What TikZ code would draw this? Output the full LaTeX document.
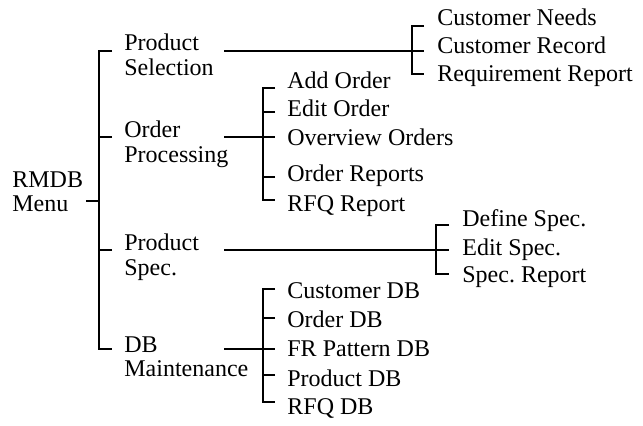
\documentclass[tikz,border=0pt]{standalone}
\usepackage{fontspec}
\setmainfont{Liberation Serif}
\frenchspacing
\begin{document}
\begin{tikzpicture}[x=0.5pt,y=-0.5pt,
  lbl/.style={inner sep=0pt, anchor=base west, font=\fontsize{12}{12.2}\selectfont},
  lbltwo/.style={inner sep=0pt, anchor=north west, align=left, font=\fontsize{12}{12.2}\selectfont},
  wire/.style={line width=1pt, line cap=butt, line join=miter}]
\useasboundingbox (0,0) rectangle (643,425);

% root and first-level menu entries
\node[lbltwo] (root) at (12,171) {RMDB\\Menu};
\node[lbltwo] (psel) at (124,33.6) {Product\\Selection};
\node[lbltwo] (oproc) at (124,120.6) {Order\\Processing};
\node[lbltwo] (pspec) at (124,233.6) {Product\\Spec.};
\node[lbltwo] (dbm) at (124,336) {DB\\Maintenance};

% product selection items
\node[lbl] (cneeds) at (437,25) {Customer Needs};
\node[lbl] (crec) at (437,53) {Customer Record};
\node[lbl] (rrep) at (437,81) {Requirement Report};

% order processing items
\node[lbl] (addo) at (287,88) {Add Order};
\node[lbl] (edito) at (287,116) {Edit Order};
\node[lbl] (overo) at (287,145) {Overview Orders};
\node[lbl] (orep) at (287,181) {Order Reports};
\node[lbl] (rfqr) at (287,211) {RFQ Report};

% product specification items
\node[lbl] (defs) at (462,226) {Define Spec.};
\node[lbl] (edits) at (462,255) {Edit Spec.};
\node[lbl] (srep) at (462,282) {Spec. Report};

% database maintenance items
\node[lbl] (cdb) at (287,298) {Customer DB};
\node[lbl] (odb) at (287,327) {Order DB};
\node[lbl] (frdb) at (287,356) {FR Pattern DB};
\node[lbl] (pdb) at (287,386) {Product DB};
\node[lbl] (rfqdb) at (287,414) {RFQ DB};

% junction points of the brackets
\coordinate (rootout) at (86,201);
\coordinate (mainbus) at (99,201);
\coordinate (pselin) at (112,51);
\coordinate (oprocin) at (112,137);
\coordinate (pspecin) at (112,250);
\coordinate (dbmin) at (112,349);
\coordinate (pselout) at (224,51);
\coordinate (oprocout) at (224,137);
\coordinate (pspecout) at (224,250);
\coordinate (dbmout) at (224,349);

\coordinate (cneedsin) at (424,26);
\coordinate (crecin) at (424,51);
\coordinate (rrepin) at (424,74);

\coordinate (addoin) at (275,88);
\coordinate (editoin) at (275,112);
\coordinate (overoin) at (275,137);
\coordinate (orepin) at (275,177);
\coordinate (rfqrin) at (275,200);

\coordinate (defsin) at (449,225);
\coordinate (editsin) at (449,250);
\coordinate (srepin) at (449,274);

\coordinate (cdbin) at (275,289);
\coordinate (odbin) at (275,318);
\coordinate (frdbin) at (275,349);
\coordinate (pdbin) at (275,375);
\coordinate (rfqdbin) at (275,402);

% first-level bracket
\draw[wire] (rootout) -- (mainbus);
\draw[wire] (pselin) -- ++(-13,0) |- (dbmin);
\draw[wire] (oprocin) -- ++(-13,0);
\draw[wire] (pspecin) -- ++(-13,0);

% product selection bracket
\draw[wire] (pselout) -- (crecin);
\draw[wire] (cneedsin) -- ++(-12,0) |- (rrepin);

% order processing bracket
\draw[wire] (oprocout) -- (overoin);
\draw[wire] (addoin) -- ++(-12,0) |- (rfqrin);
\draw[wire] (editoin) -- ++(-12,0);
\draw[wire] (orepin) -- ++(-12,0);

% product specification bracket
\draw[wire] (pspecout) -- (editsin);
\draw[wire] (defsin) -- ++(-13,0) |- (srepin);

% database maintenance bracket
\draw[wire] (dbmout) -- (frdbin);
\draw[wire] (cdbin) -- ++(-12,0) |- (rfqdbin);
\draw[wire] (odbin) -- ++(-12,0);
\draw[wire] (pdbin) -- ++(-12,0);
\end{tikzpicture}
\end{document}
